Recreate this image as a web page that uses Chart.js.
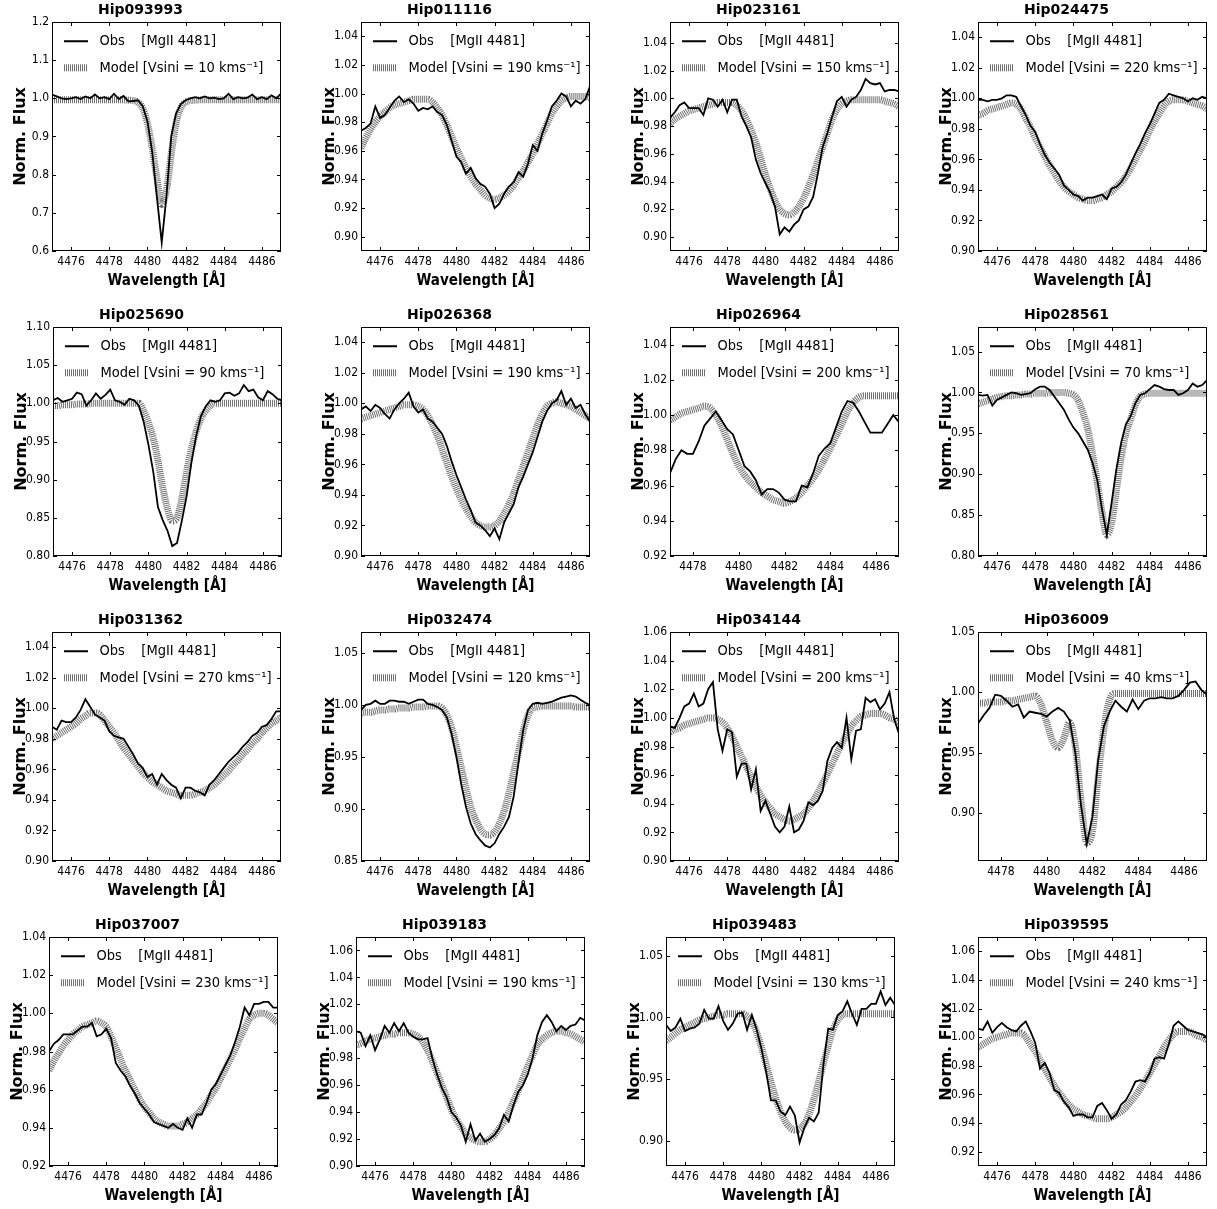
<!DOCTYPE html>
<html>
<head>
<meta charset="utf-8">
<style>
  body { margin: 0; background: #fff; }
  #grid { position: relative; width: 1217px; height: 1209px; }
  #grid canvas { position: absolute; }
</style>
<script src="https://cdn.jsdelivr.net/npm/chart.js"></script>
</head>
<body>
<div id="grid"></div>
<script>
// star names and fitted vsini (km/s) per panel
const stars = ['Hip093993', 'Hip011116', 'Hip023161', 'Hip024475',
               'Hip025690', 'Hip026368', 'Hip026964', 'Hip028561',
               'Hip031362', 'Hip032474', 'Hip034144', 'Hip036009',
               'Hip037007', 'Hip039183', 'Hip039483', 'Hip039595'];
const vsini = [10, 190, 150, 220, 90, 190, 200, 70, 270, 120, 200, 40, 230, 190, 130, 240];

// wavelength grid (Angstrom)
const wave = [4475, 4475.25, 4475.5, 4475.75, 4476, 4476.25, 4476.5, 4476.75, 4477, 4477.25,
              4477.5, 4477.75, 4478, 4478.25, 4478.5, 4478.75, 4479, 4479.25, 4479.5, 4479.75,
              4480, 4480.25, 4480.5, 4480.75, 4481, 4481.25, 4481.5, 4481.75, 4482, 4482.25,
              4482.5, 4482.75, 4483, 4483.25, 4483.5, 4483.75, 4484, 4484.25, 4484.5, 4484.75,
              4485, 4485.25, 4485.5, 4485.75, 4486, 4486.25, 4486.5, 4486.75, 4487];

// axis ranges and tick labels
const xRange = [[4475,4487],[4475,4487],[4475,4487],[4475,4487],
                [4475,4487],[4475,4487],[4477,4487],[4475,4487],
                [4475,4487],[4475,4487],[4475,4487],[4477,4487],
                [4475,4487],[4475,4487],[4475,4487],[4475,4487]];
const xTicksFull = ['4476', '4478', '4480', '4482', '4484', '4486'];
const xTicksShort = ['4478', '4480', '4482', '4484', '4486'];
const yRange = [[0.6,1.2],[0.89,1.05],[0.89,1.055],[0.90,1.05],
                [0.80,1.10],[0.90,1.05],[0.92,1.05],[0.80,1.08],
                [0.90,1.05],[0.85,1.07],[0.90,1.06],[0.86,1.05],
                [0.92,1.04],[0.90,1.07],[0.88,1.065],[0.91,1.07]];
const yTicks = [
  ['0.6','0.7','0.8','0.9','1.0','1.1','1.2'],
  ['0.90','0.92','0.94','0.96','0.98','1.00','1.02','1.04'],
  ['0.90','0.92','0.94','0.96','0.98','1.00','1.02','1.04'],
  ['0.90','0.92','0.94','0.96','0.98','1.00','1.02','1.04'],
  ['0.80','0.85','0.90','0.95','1.00','1.05','1.10'],
  ['0.90','0.92','0.94','0.96','0.98','1.00','1.02','1.04'],
  ['0.92','0.94','0.96','0.98','1.00','1.02','1.04'],
  ['0.80','0.85','0.90','0.95','1.00','1.05'],
  ['0.90','0.92','0.94','0.96','0.98','1.00','1.02','1.04'],
  ['0.85','0.90','0.95','1.00','1.05'],
  ['0.90','0.92','0.94','0.96','0.98','1.00','1.02','1.04','1.06'],
  ['0.90','0.95','1.00','1.05'],
  ['0.92','0.94','0.96','0.98','1.00','1.02','1.04'],
  ['0.90','0.92','0.94','0.96','0.98','1.00','1.02','1.04','1.06'],
  ['0.90','0.95','1.00','1.05'],
  ['0.92','0.94','0.96','0.98','1.00','1.02','1.04','1.06']
];

// observed normalized flux
const obs093993 = [1.010,1.005,1.000,0.998,1.000,1.003,0.998,1.005,1.000,1.010,1.000,1.003,0.998,1.012,0.998,1.006,0.992,0.993,0.995,0.980,0.940,0.860,0.740,0.622,0.745,0.900,0.960,0.985,0.995,1.000,1.003,1.000,1.005,1.000,1.002,0.998,1.000,1.012,0.998,1.003,1.000,1.002,1.010,0.998,1.003,0.998,1.008,1.000,1.012];
const obs011116 = [0.974,0.976,0.979,0.991,0.983,0.985,0.990,0.995,0.998,0.994,0.996,0.993,0.988,0.990,0.989,0.991,0.987,0.985,0.978,0.967,0.956,0.952,0.944,0.948,0.941,0.937,0.935,0.930,0.920,0.923,0.930,0.935,0.938,0.945,0.942,0.951,0.964,0.960,0.972,0.981,0.991,0.995,1.000,0.998,0.991,0.995,0.993,0.996,1.005];
const obs023161 = [0.986,0.990,0.995,0.997,0.993,0.993,0.993,0.988,1.000,0.999,0.994,0.999,0.990,0.999,0.999,0.987,0.980,0.972,0.956,0.946,0.939,0.932,0.922,0.902,0.907,0.904,0.909,0.912,0.920,0.922,0.929,0.946,0.965,0.975,0.987,0.998,1.001,0.994,0.999,1.001,1.006,1.014,1.011,1.010,1.011,1.005,1.006,1.006,1.005];
const obs024475 = [0.999,0.999,0.998,0.999,0.999,1.000,1.002,1.002,1.001,0.995,0.989,0.982,0.978,0.970,0.963,0.958,0.954,0.950,0.943,0.940,0.937,0.936,0.933,0.935,0.935,0.936,0.937,0.934,0.941,0.942,0.945,0.950,0.957,0.964,0.970,0.977,0.983,0.990,0.997,0.999,1.003,1.002,1.001,1.000,0.998,1.000,0.999,1.001,1.000];
const obs025690 = [1.004,1.007,1.002,1.004,1.006,1.014,1.012,0.997,1.004,1.013,1.006,1.011,1.018,1.004,1.002,0.998,1.006,1.004,0.997,0.976,0.946,0.911,0.864,0.847,0.833,0.813,0.817,0.846,0.878,0.922,0.957,0.983,0.996,1.004,1.002,1.004,1.013,1.014,1.010,1.013,1.024,1.016,1.018,1.008,1.004,1.016,1.012,1.006,1.004];
const obs026368 = [0.996,0.998,0.995,0.999,0.997,0.993,0.990,0.996,1.000,1.003,1.007,0.998,0.994,0.996,0.990,0.988,0.984,0.980,0.972,0.962,0.953,0.945,0.937,0.930,0.922,0.920,0.917,0.913,0.918,0.911,0.922,0.928,0.934,0.945,0.952,0.960,0.968,0.978,0.988,0.995,1.000,1.002,1.008,0.999,1.003,0.997,0.999,0.993,0.988];
const obs026964 = [null,null,null,null,null,null,null,null,0.967,0.975,0.980,0.978,0.978,0.985,0.994,0.998,1.002,0.997,0.992,0.989,0.980,0.971,0.968,0.963,0.955,0.958,0.958,0.956,0.952,0.951,0.951,0.960,0.959,0.967,0.977,0.981,0.984,0.993,1.002,1.008,1.007,1.002,0.996,0.990,0.990,0.990,0.995,1.000,0.996];
const obs028561 = [0.997,0.996,0.997,0.984,0.991,0.994,0.997,1.000,0.999,0.997,0.998,0.999,1.004,1.007,1.007,1.003,0.995,0.987,0.979,0.967,0.957,0.950,0.940,0.930,0.914,0.893,0.857,0.826,0.865,0.906,0.938,0.961,0.971,0.987,0.997,0.999,1.004,1.009,1.007,1.004,1.003,1.003,0.997,0.999,1.003,1.011,1.007,1.009,1.015];
const obs031362 = [0.988,0.986,0.992,0.991,0.991,0.994,0.999,1.006,1.001,0.996,0.994,0.992,0.985,0.982,0.981,0.980,0.975,0.970,0.964,0.961,0.955,0.957,0.950,0.957,0.953,0.950,0.948,0.941,0.948,0.948,0.946,0.945,0.943,0.950,0.953,0.957,0.961,0.965,0.968,0.971,0.975,0.978,0.982,0.984,0.988,0.989,0.993,0.998,0.998];
const obs032474 = [0.995,1.000,1.001,1.004,1.001,1.001,1.004,1.004,1.003,1.003,1.001,1.003,1.005,1.005,1.001,1.000,0.998,0.995,0.988,0.972,0.950,0.924,0.902,0.886,0.876,0.870,0.865,0.863,0.867,0.876,0.883,0.892,0.912,0.944,0.976,0.995,1.001,1.002,1.001,1.002,1.003,1.005,1.007,1.008,1.009,1.008,1.005,1.002,1.000];
const obs034144 = [0.994,0.993,1.000,1.008,1.010,1.017,1.008,1.010,1.020,1.025,0.992,0.977,0.992,0.990,0.959,0.968,0.968,0.950,0.964,0.935,0.942,0.933,0.924,0.920,0.924,0.938,0.920,0.922,0.928,0.941,0.939,0.942,0.949,0.970,0.979,0.983,0.979,1.000,0.971,0.991,0.992,1.014,1.011,1.013,1.006,1.010,1.018,0.999,0.989];
const obs036009 = [null,null,null,null,null,null,null,null,0.974,0.981,0.987,0.998,0.997,0.993,0.988,0.990,0.979,0.984,0.983,0.982,0.980,0.984,0.987,0.984,0.977,0.950,0.906,0.874,0.897,0.944,0.972,0.984,0.993,0.988,0.984,0.994,0.986,0.993,0.995,0.995,0.996,0.995,0.995,0.997,1.002,1.008,1.009,1.002,0.998];
const obs037007 = [0.980,0.984,0.986,0.989,0.989,0.989,0.991,0.993,0.993,0.995,0.988,0.989,0.992,0.987,0.974,0.970,0.967,0.962,0.958,0.953,0.950,0.947,0.943,0.942,0.941,0.940,0.942,0.940,0.939,0.945,0.940,0.947,0.947,0.953,0.960,0.963,0.968,0.973,0.978,0.985,0.993,1.003,0.999,1.005,1.005,1.006,1.006,1.003,1.003];
const obs039183 = [1.000,0.999,0.989,0.997,0.986,0.994,1.004,0.999,1.006,1.000,1.006,0.999,0.996,0.994,0.994,0.995,0.980,0.968,0.958,0.951,0.940,0.936,0.930,0.918,0.931,0.919,0.924,0.918,0.920,0.923,0.928,0.938,0.933,0.945,0.955,0.960,0.968,0.980,0.997,1.007,1.012,1.007,1.000,1.004,1.001,1.004,1.005,1.010,1.008];
const obs039483 = [0.994,0.989,0.992,0.999,0.989,0.991,0.992,0.995,1.006,0.999,0.999,1.009,0.997,0.990,0.995,1.003,1.004,0.990,1.002,0.990,0.975,0.956,0.933,0.933,0.924,0.921,0.928,0.921,0.899,0.911,0.919,0.916,0.923,0.962,0.991,0.990,1.002,1.005,1.013,1.003,0.994,1.007,1.007,1.011,1.011,1.021,1.010,1.016,1.010];
const obs039595 = [1.006,1.005,1.011,1.003,1.007,1.010,1.007,1.005,1.004,1.008,1.011,1.004,0.996,0.978,0.982,0.975,0.963,0.961,0.955,0.951,0.945,0.946,0.946,0.944,0.944,0.952,0.954,0.949,0.943,0.946,0.953,0.956,0.962,0.969,0.970,0.969,0.975,0.985,0.986,0.985,0.995,1.008,1.011,1.008,1.005,1.004,1.003,1.002,1.000];

// rotationally broadened model flux
const mod093993 = [0.996,0.996,0.996,0.996,0.996,0.996,0.996,0.996,0.996,0.996,0.996,0.996,0.996,0.996,0.996,0.996,0.995,0.994,0.990,0.975,0.935,0.870,0.790,0.722,0.760,0.855,0.935,0.975,0.990,0.994,0.995,0.996,0.996,0.996,0.996,0.996,0.996,0.996,0.996,0.996,0.996,0.996,0.996,0.996,0.996,0.996,0.996,0.996,0.996];
const mod011116 = [0.962,0.969,0.975,0.980,0.984,0.987,0.990,0.992,0.993,0.994,0.995,0.996,0.996,0.996,0.996,0.994,0.990,0.985,0.978,0.970,0.962,0.955,0.948,0.942,0.937,0.933,0.929,0.927,0.926,0.927,0.929,0.932,0.936,0.941,0.946,0.952,0.958,0.965,0.972,0.979,0.986,0.991,0.995,0.997,0.998,0.998,0.998,0.998,0.997];
const mod023161 = [0.982,0.985,0.987,0.989,0.991,0.992,0.993,0.994,0.995,0.996,0.997,0.997,0.997,0.997,0.995,0.991,0.985,0.977,0.968,0.957,0.945,0.935,0.926,0.920,0.917,0.916,0.918,0.922,0.928,0.936,0.945,0.955,0.965,0.975,0.985,0.992,0.996,0.998,0.999,0.999,0.999,0.999,0.999,0.999,0.999,0.998,0.997,0.996,0.994];
const mod024475 = [0.989,0.990,0.992,0.993,0.994,0.995,0.996,0.997,0.996,0.993,0.987,0.981,0.974,0.968,0.962,0.956,0.951,0.946,0.942,0.939,0.937,0.935,0.934,0.933,0.933,0.934,0.935,0.937,0.939,0.942,0.945,0.949,0.954,0.960,0.966,0.972,0.979,0.985,0.990,0.995,0.998,0.999,0.999,0.999,0.998,0.997,0.996,0.995,0.993];
const mod025690 = [0.997,0.997,0.998,0.998,0.998,0.999,0.999,0.999,1.000,1.000,1.000,1.000,1.000,1.000,1.000,1.000,1.000,1.000,1.000,0.990,0.975,0.955,0.925,0.890,0.862,0.846,0.850,0.875,0.910,0.940,0.963,0.980,0.990,0.997,1.000,1.000,1.000,1.000,1.000,1.000,1.000,1.000,1.000,1.000,1.000,1.000,1.000,1.000,1.000];
const mod026368 = [0.990,0.991,0.992,0.993,0.994,0.995,0.996,0.997,0.998,0.999,0.999,0.999,0.998,0.996,0.992,0.986,0.979,0.970,0.961,0.952,0.944,0.937,0.931,0.926,0.922,0.920,0.919,0.919,0.920,0.923,0.928,0.934,0.941,0.950,0.959,0.968,0.977,0.986,0.993,0.998,1.000,1.001,1.000,0.999,0.998,0.996,0.994,0.992,0.990];
const mod026964 = [null,null,null,null,null,null,null,null,0.997,0.999,1.001,1.002,1.003,1.004,1.005,1.004,1.000,0.994,0.986,0.978,0.971,0.966,0.962,0.959,0.956,0.954,0.952,0.951,0.950,0.951,0.953,0.956,0.960,0.964,0.969,0.975,0.981,0.988,0.995,1.002,1.007,1.010,1.011,1.011,1.011,1.011,1.011,1.011,1.011];
const mod028561 = [0.986,0.988,0.990,0.992,0.994,0.995,0.996,0.996,0.997,0.997,0.998,0.998,0.999,0.999,0.999,1.000,1.000,1.000,1.000,0.999,0.997,0.990,0.975,0.955,0.925,0.890,0.853,0.826,0.840,0.880,0.920,0.950,0.967,0.985,0.995,0.998,0.999,0.999,0.999,0.999,0.999,0.999,0.999,0.999,0.999,0.999,0.999,0.999,0.999];
const mod031362 = [0.980,0.982,0.984,0.986,0.988,0.990,0.993,0.995,0.997,0.997,0.996,0.992,0.988,0.984,0.979,0.974,0.970,0.966,0.962,0.958,0.955,0.952,0.950,0.948,0.946,0.945,0.944,0.943,0.943,0.943,0.944,0.945,0.946,0.948,0.950,0.953,0.956,0.959,0.963,0.966,0.970,0.973,0.977,0.980,0.984,0.987,0.990,0.992,0.994];
const mod032474 = [0.992,0.993,0.993,0.994,0.995,0.995,0.996,0.996,0.997,0.997,0.997,0.998,0.998,0.998,0.999,0.999,0.999,0.997,0.990,0.978,0.960,0.940,0.920,0.902,0.890,0.881,0.876,0.875,0.878,0.886,0.898,0.915,0.935,0.955,0.975,0.990,0.997,0.998,0.999,0.999,0.999,0.999,0.999,0.999,0.999,0.998,0.998,0.998,0.998];
const mod034144 = [0.990,0.992,0.993,0.995,0.996,0.997,0.998,0.999,1.000,1.000,0.999,0.997,0.993,0.987,0.980,0.973,0.966,0.959,0.952,0.946,0.941,0.937,0.933,0.931,0.929,0.928,0.929,0.931,0.933,0.937,0.942,0.948,0.954,0.961,0.968,0.975,0.982,0.988,0.994,0.998,1.001,1.002,1.003,1.003,1.003,1.002,1.000,0.999,0.997];
const mod036009 = [null,null,null,null,null,null,null,null,0.991,0.991,0.992,0.992,0.992,0.993,0.993,0.994,0.995,0.996,0.997,0.990,0.975,0.960,0.954,0.962,0.975,0.955,0.910,0.875,0.885,0.930,0.970,0.994,0.999,0.999,0.999,0.999,0.999,0.999,0.999,0.999,0.999,0.999,0.999,0.999,0.999,0.999,0.999,0.999,0.999];
const mod037007 = [0.970,0.975,0.979,0.983,0.986,0.989,0.991,0.993,0.994,0.995,0.996,0.995,0.993,0.988,0.982,0.976,0.970,0.965,0.960,0.955,0.951,0.948,0.945,0.943,0.942,0.941,0.941,0.941,0.942,0.943,0.945,0.947,0.950,0.953,0.957,0.961,0.966,0.971,0.976,0.981,0.987,0.992,0.997,0.999,1.000,1.000,0.999,0.997,0.995];
const mod039183 = [0.990,0.991,0.993,0.994,0.995,0.996,0.997,0.998,0.998,0.999,0.999,0.999,0.998,0.996,0.992,0.986,0.978,0.969,0.960,0.951,0.942,0.935,0.929,0.924,0.921,0.919,0.918,0.918,0.920,0.923,0.928,0.933,0.940,0.948,0.956,0.965,0.974,0.982,0.990,0.994,0.997,0.999,1.000,1.000,0.999,0.998,0.996,0.994,0.992];
const mod039483 = [0.981,0.984,0.987,0.990,0.992,0.994,0.996,0.998,0.999,1.000,1.001,1.002,1.002,1.003,1.003,1.003,1.003,1.001,0.997,0.988,0.976,0.962,0.948,0.935,0.924,0.916,0.911,0.909,0.910,0.914,0.922,0.934,0.948,0.963,0.977,0.990,0.998,1.002,1.003,1.003,1.003,1.003,1.003,1.003,1.003,1.003,1.003,1.003,1.003];
const mod039595 = [0.993,0.995,0.997,0.999,1.000,1.001,1.002,1.003,1.003,1.003,1.000,0.995,0.990,0.984,0.978,0.972,0.966,0.961,0.957,0.953,0.950,0.948,0.946,0.945,0.944,0.943,0.943,0.943,0.944,0.946,0.948,0.951,0.955,0.959,0.964,0.969,0.975,0.981,0.987,0.993,0.998,1.002,1.004,1.004,1.004,1.003,1.001,1.000,0.998];

const obsSeries = [obs093993, obs011116, obs023161, obs024475, obs025690, obs026368, obs026964, obs028561,
                   obs031362, obs032474, obs034144, obs036009, obs037007, obs039183, obs039483, obs039595];
const modSeries = [mod093993, mod011116, mod023161, mod024475, mod025690, mod026368, mod026964, mod028561,
                   mod031362, mod032474, mod034144, mod036009, mod037007, mod039183, mod039483, mod039595];

// page layout (plot-area corners, px)
const plotLeft = [[52, 361, 670, 978], [53, 361, 670, 978], [52, 361, 670, 978], [49, 356, 666, 978]];
const plotTop = [22, 327, 632, 937];
const PW = 229, PH = 229, AXW = 52, TITH = 22, AXH = 45, PADR = 8;

const SANS = "'DejaVu Sans Condensed', 'DejaVu Sans', sans-serif";
Chart.defaults.font.family = SANS;
Chart.defaults.color = '#000';
Chart.defaults.animation = false;

const titleFont = {family: "'DejaVu Sans', sans-serif", weight: 'bold', size: 14};
const xLabelFont = {family: SANS, weight: 'bold', size: 15};
const yLabelFont = {family: "'DejaVu Sans', sans-serif", weight: 'bold', size: 16};
const MODEL_GREY = '#707070';

// box around the axes with inward ticks on all four sides
const frame = {
  id: 'frame',
  afterDraw(chart) {
    const {ctx, chartArea: a, scales: {x, y}} = chart;
    ctx.save();
    ctx.strokeStyle = '#000';
    ctx.lineWidth = 1;
    ctx.strokeRect(a.left + 0.5, a.top + 0.5, a.width - 1, a.height - 1);
    ctx.beginPath();
    x.ticks.forEach(t => {
      const px = Math.round(x.getPixelForValue(t.value)) + 0.5;
      ctx.moveTo(px, a.bottom); ctx.lineTo(px, a.bottom - 4);
      ctx.moveTo(px, a.top); ctx.lineTo(px, a.top + 4);
    });
    y.ticks.forEach(t => {
      const py = Math.round(y.getPixelForValue(t.value)) + 0.5;
      ctx.moveTo(a.left, py); ctx.lineTo(a.left + 4, py);
      ctx.moveTo(a.right, py); ctx.lineTo(a.right - 4, py);
    });
    ctx.stroke();
    ctx.restore();
  }
};

const grid = document.getElementById('grid');

function makePanel(k) {
  const row = Math.floor(k / 4), col = k % 4;
  const W = AXW + PW + PADR, H = TITH + PH + AXH;
  const cv = document.createElement('canvas');
  cv.width = W; cv.height = H;
  cv.style.width = W + 'px'; cv.style.height = H + 'px';
  cv.style.left = (plotLeft[row][col] - AXW) + 'px';
  cv.style.top = (plotTop[row] - TITH) + 'px';
  grid.appendChild(cv);

  const xLabels = xRange[k][0] === 4477 ? xTicksShort : xTicksFull;
  const pts = arr => arr.map((v, j) => ({x: wave[j], y: v}));

  new Chart(cv, {
    type: 'line',
    data: {
      datasets: [
        {
          label: 'Obs',
          data: pts(obsSeries[k]),
          borderColor: '#000',
          borderWidth: 1.8,
          pointRadius: 0,
          tension: 0,
          clip: 0
        },
        {
          label: 'Model',
          data: pts(modSeries[k]),
          borderColor: MODEL_GREY,
          borderWidth: 7,
          borderDash: [1, 1],
          borderCapStyle: 'butt',
          pointRadius: 0,
          cubicInterpolationMode: 'monotone',
          clip: 0
        }
      ]
    },
    options: {
      responsive: false,
      devicePixelRatio: 1,
      layout: { padding: { right: PADR } },
      scales: {
        x: {
          type: 'linear',
          min: xRange[k][0],
          max: xRange[k][1],
          grid: { display: false, drawTicks: false },
          border: { display: false },
          afterBuildTicks: s => { s.ticks = xLabels.map(t => ({value: +t})); },
          afterFit: s => { s.height = AXH; },
          ticks: {
            font: { size: 12 },
            padding: 4,
            maxRotation: 0,
            autoSkip: false,
            callback: (v, i) => xLabels[i]
          },
          title: {
            display: true,
            text: 'Wavelength [Å]',
            font: xLabelFont,
            padding: { top: 0, bottom: 6 }
          }
        },
        y: {
          type: 'linear',
          min: yRange[k][0],
          max: yRange[k][1],
          grid: { display: false, drawTicks: false },
          border: { display: false },
          afterBuildTicks: s => { s.ticks = yTicks[k].map(t => ({value: +t})); },
          afterFit: s => { s.width = AXW; },
          ticks: {
            font: { size: 12 },
            padding: 3,
            autoSkip: false,
            callback: (v, i) => yTicks[k][i]
          },
          title: {
            display: true,
            text: 'Norm. Flux',
            font: yLabelFont,
            padding: { top: 11, bottom: 0 }
          }
        }
      },
      plugins: {
        title: {
          display: true,
          text: stars[k],
          font: titleFont,
          padding: { top: 2, bottom: 3.2 }
        },
        legend: {
          position: 'chartArea',
          align: 'start',
          onClick: null,
          // empty legend title only pushes the entries below the panel title
          title: { display: true, text: '', font: { size: 10 }, padding: { top: 10, bottom: 0 } },
          labels: {
            usePointStyle: true,
            pointStyleWidth: 24,
            padding: 12,
            font: { size: 14.5 },
            color: '#000',
            generateLabels: () => [
              { text: ' Obs    [MgII 4481]', pointStyle: 'line', strokeStyle: '#000',
                fillStyle: '#000', lineWidth: 2, hidden: false, datasetIndex: 0 },
              { text: ' Model [Vsini = ' + vsini[k] + ' kms⁻¹]', pointStyle: 'line',
                strokeStyle: MODEL_GREY, fillStyle: MODEL_GREY, lineWidth: 7,
                lineDash: [1, 1], hidden: false, datasetIndex: 1 }
            ]
          }
        },
        tooltip: { enabled: false }
      }
    },
    plugins: [frame]
  });
}

for (let k = 0; k < stars.length; k++) makePanel(k);
</script>
</body>
</html>
